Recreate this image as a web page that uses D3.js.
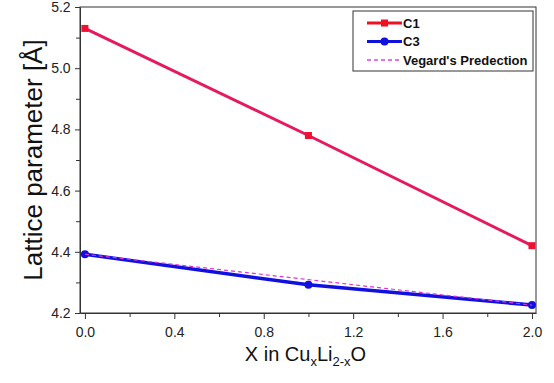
<!DOCTYPE html>
<html>
<head>
<meta charset="utf-8">
<script src="https://cdn.jsdelivr.net/npm/d3@7"></script>
<style>
  body { margin: 0; background: #fff; }
  text { font-family: Arial, "Liberation Sans", sans-serif; }
</style>
</head>
<body>
<div id="chart"></div>
<script>
// data
const xValues = [0, 1, 2];
const c1Values = [5.13, 4.78, 4.42];
const c3Values = [4.392, 4.292, 4.226];
const vegardValues = [4.392, 4.309, 4.226];
const xTicks = [0.0, 0.4, 0.8, 1.2, 1.6, 2.0];
const yTicks = [4.2, 4.4, 4.6, 4.8, 5.0, 5.2];
const legendLabels = ["C1", "C3", "Vegard's Predection"];

const width = 554, height = 383;
const margin = { top: 7, right: 18, bottom: 70, left: 80 };
const innerW = width - margin.left - margin.right;
const innerH = height - margin.top - margin.bottom;

const svg = d3.select("#chart")
  .append("svg")
  .attr("width", width)
  .attr("height", height);

const g = svg.append("g")
  .attr("transform", `translate(${margin.left},${margin.top})`);

const x = d3.scaleLinear().domain([-0.022, 2.018]).range([0, innerW]);
const y = d3.scaleLinear().domain([4.2, 5.2]).range([innerH, 0]);

const axisColor = "#333";

// frame
g.append("rect")
  .attr("width", innerW)
  .attr("height", innerH)
  .attr("fill", "none")
  .attr("stroke", axisColor)
  .attr("stroke-width", 1);

// x axis, major + minor ticks
const xAxis = g.append("g")
  .attr("transform", `translate(0,${innerH})`)
  .call(d3.axisBottom(x).tickValues(xTicks).tickFormat(d3.format(".1f")).tickSize(6).tickSizeOuter(0));
g.append("g")
  .attr("transform", `translate(0,${innerH})`)
  .call(d3.axisBottom(x).tickValues([0.2, 0.6, 1.0, 1.4, 1.8]).tickFormat("").tickSize(4).tickSizeOuter(0))
  .select(".domain").remove();

// y axis, major + minor ticks
const yAxis = g.append("g")
  .call(d3.axisLeft(y).tickValues(yTicks).tickFormat(d3.format(".1f")).tickSize(5).tickSizeOuter(0));
g.append("g")
  .call(d3.axisLeft(y).tickValues([4.3, 4.5, 4.7, 4.9, 5.1]).tickFormat("").tickSize(4).tickSizeOuter(0))
  .select(".domain").remove();

svg.selectAll(".domain").attr("stroke", axisColor);
svg.selectAll(".tick line").attr("stroke", axisColor);
xAxis.selectAll("text")
  .attr("font-size", "14px")
  .attr("fill", "#222")
  .attr("dy", "1.05em");
yAxis.selectAll("text")
  .attr("font-size", "14px")
  .attr("fill", "#222")
  .attr("dx", "-0.1em");

// axis titles
svg.append("text")
  .attr("transform", `translate(42,${margin.top + innerH / 2}) rotate(-90)`)
  .attr("text-anchor", "middle")
  .attr("font-size", "26px")
  .attr("fill", "#111")
  .text("Lattice parameter [Å]");

const xTitle = svg.append("text")
  .attr("x", margin.left + x(1) - 3)
  .attr("y", 361)
  .attr("text-anchor", "middle")
  .attr("font-size", "20px")
  .attr("fill", "#111");
xTitle.append("tspan").text("X in Cu");
xTitle.append("tspan").attr("font-size", "13px").attr("dy", 5).text("x");
xTitle.append("tspan").attr("dy", -5).text("Li");
xTitle.append("tspan").attr("font-size", "13px").attr("dy", 5).text("2-x");
xTitle.append("tspan").attr("dy", -5).text("O");

const line = d3.line()
  .x((d, i) => x(xValues[i]))
  .y(d => y(d));

// C1
g.append("path")
  .datum(c1Values)
  .attr("d", line)
  .attr("fill", "none")
  .attr("stroke", "#e8185f")
  .attr("stroke-width", 3);
g.selectAll(".c1pt")
  .data(c1Values)
  .join("rect")
  .attr("class", "c1pt")
  .attr("x", (d, i) => x(xValues[i]) - 3.5)
  .attr("y", d => y(d) - 3.5)
  .attr("width", 7)
  .attr("height", 7)
  .attr("fill", "#ee1133");

// C3
g.append("path")
  .datum(c3Values)
  .attr("d", line)
  .attr("fill", "none")
  .attr("stroke", "#1010e0")
  .attr("stroke-width", 3.5);
g.selectAll(".c3pt")
  .data(c3Values)
  .join("circle")
  .attr("class", "c3pt")
  .attr("cx", (d, i) => x(xValues[i]))
  .attr("cy", d => y(d))
  .attr("r", 4)
  .attr("fill", "#1010e0");

// Vegard's prediction
g.append("path")
  .datum(vegardValues)
  .attr("d", line)
  .attr("fill", "none")
  .attr("stroke", "#dd33dd")
  .attr("stroke-width", 1.2)
  .attr("stroke-dasharray", "4,3");

// legend
const legend = svg.append("g").attr("transform", "translate(353,11)");
legend.append("rect")
  .attr("width", 180)
  .attr("height", 60)
  .attr("fill", "#fff")
  .attr("stroke", axisColor)
  .attr("stroke-width", 1);

const legendStyles = [
  { color: "#ee1122", marker: "square", dash: null, w: 3 },
  { color: "#1010e0", marker: "circle", dash: null, w: 3 },
  { color: "#dd44dd", marker: null, dash: "4,3", w: 1.5 }
];
legendLabels.forEach((label, i) => {
  const st = legendStyles[i];
  const ly = 12 + i * 18.5;
  const row = legend.append("g").attr("transform", `translate(0,${ly})`);
  row.append("line")
    .attr("x1", 14).attr("x2", 49)
    .attr("stroke", st.color)
    .attr("stroke-width", st.w)
    .attr("stroke-dasharray", st.dash);
  if (st.marker === "square") {
    row.append("rect").attr("x", 28).attr("y", -3.5).attr("width", 7).attr("height", 7).attr("fill", st.color);
  } else if (st.marker === "circle") {
    row.append("circle").attr("cx", 31.5).attr("r", 4).attr("fill", st.color);
  }
  row.append("text")
    .attr("x", 50)
    .attr("dy", "0.36em")
    .attr("font-size", "13px")
    .attr("font-weight", "bold")
    .attr("fill", "#111")
    .text(label);
});
</script>
</body>
</html>
